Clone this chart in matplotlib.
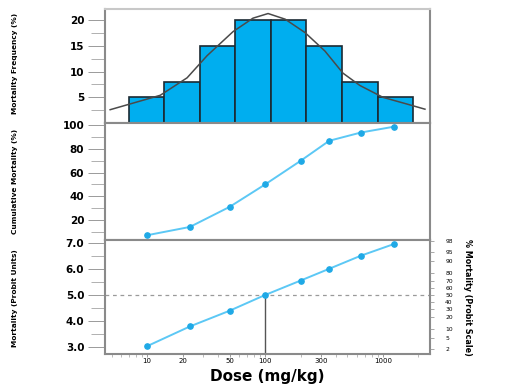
import matplotlib
matplotlib.use("Agg")
import matplotlib.pyplot as plt
from matplotlib.ticker import FixedLocator, NullFormatter, LogLocator, MultipleLocator
from statistics import NormalDist

# ---- data ----
bin_edges = [7, 14, 28, 56, 112, 224, 450, 900, 1800]
freq = [5, 8, 15, 20, 20, 15, 8, 5]

curve_dose = [4.85, 12.9, 21.8, 32.2, 53.6, 79, 106, 148, 218, 322, 458, 638, 1000, 1596, 2270]
curve_freq = [2.6, 5.4, 8.8, 13.1, 17.8, 20.4, 21.3, 20.2, 17.6, 14.0, 9.7, 7.3, 5.0, 3.7, 2.7]

doses = [10, 23, 50, 100, 200, 350, 650, 1250]
cum_mortality = [7, 14, 31, 50, 70, 87, 94, 99]
probit = [3.05, 3.8, 4.4, 5.0, 5.55, 6.0, 6.5, 6.95]

x_ticks = [10, 20, 50, 100, 300, 1000]
x_tick_labels = ["10", "20", "50", "100", "300", "1000"]
pct_ticks = [98, 95, 90, 80, 70, 60, 50, 40, 30, 20, 10, 5, 2]

# ---- style ----
BAR = "#00aeef"
LINE = "#5cc8f5"
MARK = "#1fa9e6"
SPINE = "#8a8a8a"

fig = plt.figure(figsize=(5.13, 3.87), dpi=100)
L, W = 0.205, 0.633
ax1 = fig.add_axes([L, 0.682, W, 0.295])
ax2 = fig.add_axes([L, 0.380, W, 0.302], sharex=ax1)
ax3 = fig.add_axes([L, 0.0853, W, 0.2947], sharex=ax1)

for ax in (ax1, ax2, ax3):
    ax.set_xscale("log")
    for s in ax.spines.values():
        s.set_color(SPINE)
        s.set_linewidth(1.5)
    ax.tick_params(axis="y", which="major", length=12, width=0.7, color="#9a9a9a",
                   labelsize=7.5, pad=3)
    ax.tick_params(axis="y", which="minor", length=10, width=0.7, color="#b0b0b0")
ax1.spines["top"].set_color("#c8c8c8")

ax1.set_xlim(4.4, 2500)

# ---- top: frequency histogram ----
widths = [bin_edges[i + 1] - bin_edges[i] for i in range(len(freq))]
ax1.bar(bin_edges[:-1], freq, width=widths, align="edge", color=BAR,
        edgecolor="#1b2a33", linewidth=1.2, zorder=2)
ax1.plot(curve_dose, curve_freq, color="#4a4a4a", lw=1.1, zorder=3)
ax1.set_ylim(0, 22.2)
ax1.yaxis.set_major_locator(FixedLocator([5, 10, 15, 20]))
ax1.yaxis.set_minor_locator(FixedLocator([2.5, 7.5, 12.5, 17.5]))
ax1.set_yticklabels(["5", "10", "15", "20"], fontweight="bold")
ax1.tick_params(axis="x", which="both", bottom=False, labelbottom=False)

# ---- middle: cumulative mortality ----
ax2.plot(doses, cum_mortality, color=LINE, lw=1.4, zorder=2)
ax2.plot(doses, cum_mortality, ls="none", marker="o", ms=3.8, color=MARK, zorder=3)
ax2.set_ylim(3, 102)
ax2.yaxis.set_major_locator(FixedLocator([20, 40, 60, 80, 100]))
ax2.yaxis.set_minor_locator(FixedLocator([10, 30, 50, 70, 90]))
ax2.set_yticklabels(["20", "40", "60", "80", "100"], fontweight="bold")
ax2.tick_params(axis="x", which="both", bottom=False, labelbottom=False)

# ---- bottom: probit ----
ax3.axhline(5.0, color="#9a9a9a", lw=0.9, ls=(0, (3, 3)), zorder=1)
ax3.plot([doses[3], doses[3]], [2.75, probit[3]], color="#555555", lw=1.0, zorder=1)
ax3.plot(doses, probit, color=LINE, lw=1.4, zorder=2)
ax3.plot(doses, probit, ls="none", marker="o", ms=3.8, color=MARK, zorder=3)
ax3.set_ylim(2.75, 7.1)
ax3.yaxis.set_major_locator(FixedLocator([3, 4, 5, 6, 7]))
ax3.yaxis.set_minor_locator(MultipleLocator(0.5))
ax3.set_yticklabels(["3.0", "4.0", "5.0", "6.0", "7.0"], fontweight="bold")
ax3.xaxis.set_major_locator(FixedLocator(x_ticks))
ax3.xaxis.set_minor_locator(LogLocator(base=10, subs=range(2, 10)))
ax3.xaxis.set_minor_formatter(NullFormatter())
ax3.set_xticklabels(x_tick_labels)
ax3.tick_params(axis="x", which="major", length=2, width=0.7, color="#9a9a9a",
                labelsize=5, pad=1)
ax3.tick_params(axis="x", which="minor", length=2, width=0.6, color="#b0b0b0")
fig.text(0.52, 0.028, "Dose (mg/kg)", ha="center", va="center",
         fontsize=11, fontweight="bold")

# right probit percent axis
ax3r = ax3.twinx()
ax3r.set_ylim(ax3.get_ylim())
nd = NormalDist()
ax3r.yaxis.set_major_locator(FixedLocator([nd.inv_cdf(p / 100) + 5 for p in pct_ticks]))
ax3r.set_yticklabels([str(p) for p in pct_ticks])
ax3r.tick_params(axis="y", length=3, width=0.6, color="#9a9a9a", labelsize=4.3, pad=8)
for s in ax3r.spines.values():
    s.set_visible(False)
ax3r.set_ylabel("% Mortality (Probit Scale)", fontsize=5.8, fontweight="bold",
                rotation=270, labelpad=14)

# left labels
fig.text(0.03, 0.835, "Mortality Frequency (%)", rotation=90, ha="center", va="center",
         fontsize=5.3, fontweight="bold")
fig.text(0.03, 0.53, "Cumulative Mortality (%)", rotation=90, ha="center", va="center",
         fontsize=5.3, fontweight="bold")
fig.text(0.03, 0.23, "Mortality (Probit Units)", rotation=90, ha="center", va="center",
         fontsize=5.3, fontweight="bold")

fig.savefig("out.png", dpi=100)
